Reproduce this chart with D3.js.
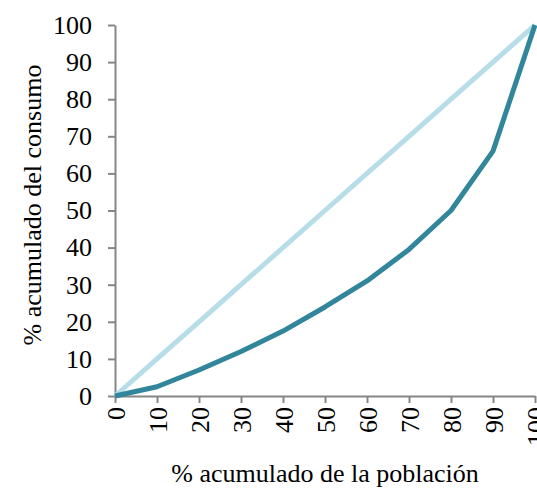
<!DOCTYPE html>
<html><head><meta charset="utf-8">
<script src="https://cdn.jsdelivr.net/npm/d3@7"></script>
<style>
body{margin:0;background:#fff;}
text{font-family:"Liberation Serif","Times New Roman",serif;}
</style></head>
<body><svg id="c" width="537" height="489"></svg>
<script>
const xValues = [0,10,20,30,40,50,60,70,80,90,100];
const lorenz = [0,2.5,7,12,17.5,24,31,39.5,50,66,100];
const equality = [0,10,20,30,40,50,60,70,80,90,100];
const xTicks = [0,10,20,30,40,50,60,70,80,90,100];
const yTicks = [0,10,20,30,40,50,60,70,80,90,100];

const svg = d3.select("#c");
const m = {left:115, right:2, top:25, bottom:93};
const W = 537, H = 489;
const FS = "26px";
const x = d3.scaleLinear().domain([0,100]).range([m.left, W - m.right]);
const y = d3.scaleLinear().domain([0,100]).range([H - m.bottom, m.top]);
const axisColor = "#868686";

const yAx = svg.append("g").attr("transform",`translate(${m.left},0)`)
  .call(d3.axisLeft(y).tickValues(yTicks).tickSize(7).tickSizeOuter(0).tickPadding(16));
const xAx = svg.append("g").attr("transform",`translate(0,${H-m.bottom})`)
  .call(d3.axisBottom(x).tickValues(xTicks).tickSize(7).tickSizeOuter(0));
[yAx,xAx].forEach(g=>{
  g.attr("font-family",null).attr("font-size",null);
  g.selectAll("path,line").attr("stroke",axisColor).attr("stroke-width",2);
  g.selectAll("text").attr("fill","#000").style("font-size",FS).style("font-family",'"Liberation Serif",serif');
});
xAx.selectAll("text")
  .attr("text-anchor","end")
  .attr("transform","rotate(-90)")
  .attr("x",-11).attr("y",0).attr("dy","0.35em");

const line = d3.line().x((d,i)=>x(xValues[i])).y(d=>y(d));
svg.append("path").datum(equality).attr("d",line)
  .attr("fill","none").attr("stroke","#B7DEE8").attr("stroke-width",5);
svg.append("path").datum(lorenz).attr("d",line)
  .attr("fill","none").attr("stroke","#31869B").attr("stroke-width",5).attr("stroke-linejoin","round");

svg.append("text").attr("x",325).attr("y",482).attr("text-anchor","middle")
  .style("font-size",FS).text("% acumulado de la población");
svg.append("text").attr("transform",`translate(41,205) rotate(-90)`).attr("text-anchor","middle")
  .style("font-size",FS).text("% acumulado del consumo");
</script></body></html>
